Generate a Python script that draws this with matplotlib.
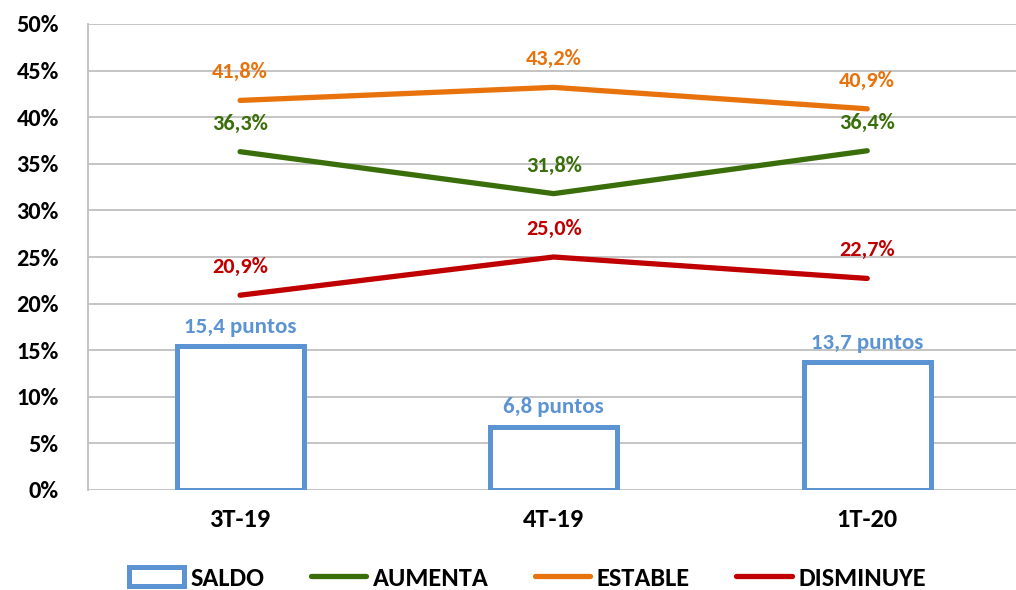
import matplotlib.pyplot as plt
from matplotlib import font_manager
import numpy as np

nombres = {f.name for f in font_manager.fontManager.ttflist if f.weight in (600, 700, "bold")}
familia = [f for f in ["Carlito", "Lato", "Open Sans", "Noto Sans"] if f in nombres]
plt.rcParams['font.family'] = familia + ['DejaVu Sans']
plt.rcParams['font.weight'] = 'bold'

# Datos
trimestres = ["3T-19", "4T-19", "1T-20"]
saldo = [15.4, 6.8, 13.7]
aumenta = [36.3, 31.8, 36.4]
estable = [41.8, 43.2, 40.9]
disminuye = [20.9, 25.0, 22.7]

azul = "#5B93D3"
verde = "#3A6E0A"
naranja = "#E8720C"
rojo = "#C00000"

fig = plt.figure(figsize=(10.16, 5.9), dpi=100)
ax = fig.add_axes([88 / 1016, 100 / 590, 936 / 1016, 466 / 590])

x = np.arange(len(trimestres))
barras = ax.bar(x, saldo, width=0.405, facecolor="white", edgecolor=azul, linewidth=3.6, label="SALDO", zorder=3)
l1, = ax.plot(x, aumenta, color=verde, lw=3.8, label="AUMENTA", zorder=4, solid_capstyle="round")
l2, = ax.plot(x, estable, color=naranja, lw=3.8, label="ESTABLE", zorder=4, solid_capstyle="round")
l3, = ax.plot(x, disminuye, color=rojo, lw=3.8, label="DISMINUYE", zorder=4, solid_capstyle="round")

# Etiquetas
for i in x:
    ax.annotate(f"{saldo[i]:.1f} puntos".replace(".", ","), (i, saldo[i]), xytext=(0, 7),
                textcoords="offset points", ha="center", va="bottom", color=azul, fontsize=16.5, fontweight="bold")
    for serie, col in [(aumenta, verde), (estable, naranja), (disminuye, rojo)]:
        ax.annotate(f"{serie[i]:.1f}%".replace(".", ","), (i, serie[i]), xytext=(0, 13),
                    textcoords="offset points", ha="center", va="bottom", color=col, fontsize=16, fontweight="bold")

ax.set_xlim(-0.485, 2.5)
ax.set_ylim(0, 50)
ax.set_yticks(np.arange(0, 51, 5))
ax.set_yticklabels([f"{v}%" for v in range(0, 51, 5)], fontsize=17.5, fontweight="bold")
ax.set_xticks(x)
ax.set_xticklabels(trimestres, fontsize=19, fontweight="bold")
ax.tick_params(axis="y", length=0, pad=21)
ax.tick_params(axis="x", length=0, pad=13)
ax.yaxis.grid(True, color="#BFBFBF", lw=1.3)
ax.set_axisbelow(True)
for s in ["top", "right", "bottom"]:
    ax.spines[s].set_visible(False)
ax.spines["left"].set_color("#BFBFBF")
ax.spines["left"].set_linewidth(1.3)

fig.legend([barras, l1, l2, l3], ["SALDO", "AUMENTA", "ESTABLE", "DISMINUYE"],
           loc="center", bbox_to_anchor=(0.519, 0.02), ncol=4, frameon=False,
           prop={"size": 19, "weight": "bold"}, handlelength=2.1, columnspacing=1.75, handletextpad=0.25)

fig.savefig("out.png", dpi=100)
